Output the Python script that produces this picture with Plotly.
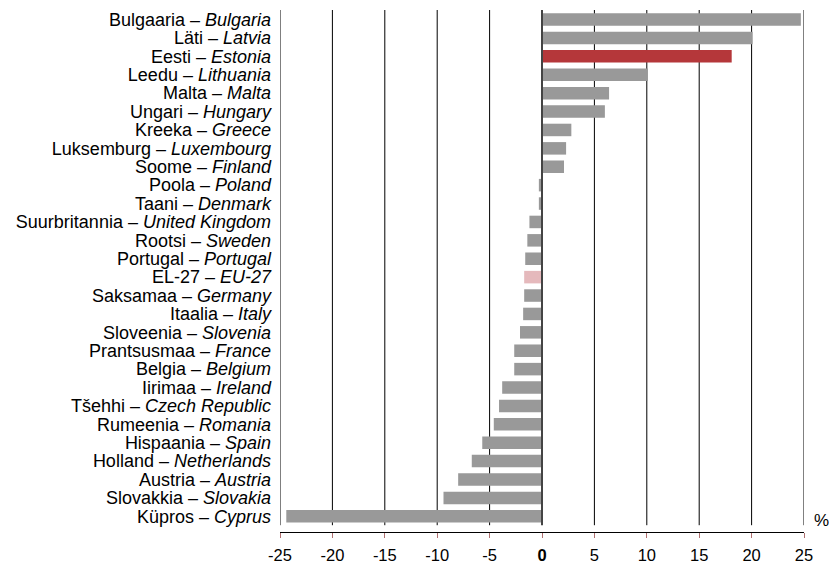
import plotly.graph_objects as go

est = ["Bulgaaria", "Läti", "Eesti", "Leedu", "Malta", "Ungari", "Kreeka", "Luksemburg",
       "Soome", "Poola", "Taani", "Suurbritannia", "Rootsi", "Portugal", "EL-27", "Saksamaa",
       "Itaalia", "Sloveenia", "Prantsusmaa", "Belgia", "Iirimaa", "Tšehhi", "Rumeenia",
       "Hispaania", "Holland", "Austria", "Slovakkia", "Küpros"]
eng = ["Bulgaria", "Latvia", "Estonia", "Lithuania", "Malta", "Hungary", "Greece", "Luxembourg",
       "Finland", "Poland", "Denmark", "United Kingdom", "Sweden", "Portugal", "EU-27", "Germany",
       "Italy", "Slovenia", "France", "Belgium", "Ireland", "Czech Republic", "Romania",
       "Spain", "Netherlands", "Austria", "Slovakia", "Cyprus"]
values = [24.7, 20.1, 18.1, 10.1, 6.4, 6.0, 2.8, 2.3, 2.1, -0.3, -0.3, -1.2, -1.4, -1.6, -1.7,
          -1.7, -1.8, -2.1, -2.65, -2.65, -3.8, -4.1, -4.6, -5.7, -6.7, -8.0, -9.4, -24.4]
tick_vals = [-25, -20, -15, -10, -5, 0, 5, 10, 15, 20, 25]
tick_text = ["-25", "-20", "-15", "-10", "-5", "<b>0</b>", "5", "10", "15", "20", "25"]

labels = [f"{e} – <i>{n}</i>" for e, n in zip(est, eng)]
colors = []
for n in eng:
    if n == "Estonia":
        colors.append("#B5373A")
    elif n == "EU-27":
        colors.append("#E5B9BC")
    else:
        colors.append("#999999")

# bottom-to-top order
labels_r = labels[::-1]
values_r = values[::-1]
colors_r = colors[::-1]

fig = go.Figure(go.Bar(
    x=values_r, y=labels_r, orientation="h",
    marker=dict(color=colors_r, line=dict(width=0)),
    width=0.68,
))

grid_bottom = 0.013
shapes = []
for v in tick_vals:
    if v == 0:
        continue
    shapes.append(dict(type="line", xref="x", yref="paper", x0=v, x1=v, y0=grid_bottom, y1=1,
                       line=dict(color="#000000", width=1), layer="below"))
shapes.append(dict(type="line", xref="x", yref="paper", x0=0, x1=0, y0=grid_bottom, y1=1,
                   line=dict(color="#444444", width=2), layer="above"))

fig.update_layout(
    width=829, height=574,
    margin=dict(l=280, r=25, t=10, b=25),
    paper_bgcolor="white", plot_bgcolor="white",
    font=dict(family="Liberation Sans, Arial, sans-serif", size=17, color="#000000"),
    showlegend=False,
    shapes=shapes,
    xaxis=dict(range=[-25, 25], tickvals=tick_vals, ticktext=tick_text,
               showgrid=False, zeroline=False, showline=True, linecolor="#000000", linewidth=1,
               ticks="outside", ticklen=5, tickcolor="#B07070", tickfont=dict(size=16.5),
               ticklabelstandoff=3),
    yaxis=dict(range=[-0.853, 27.52], showgrid=False, zeroline=False, showline=False,
               tickmode="array", tickvals=labels_r, ticktext=labels_r,
               ticks="", tickfont=dict(size=18), automargin=False, ticklabelstandoff=8),
    annotations=[dict(text="%", xref="paper", yref="paper", x=1.0, y=0.022, xanchor="left",
                      yanchor="middle", showarrow=False, borderpad=0, xshift=9,
                      font=dict(size=17))],
)

fig.write_html("out.html", config={"displayModeBar": False, "responsive": False},
               post_script="document.body.style.margin='0';")
